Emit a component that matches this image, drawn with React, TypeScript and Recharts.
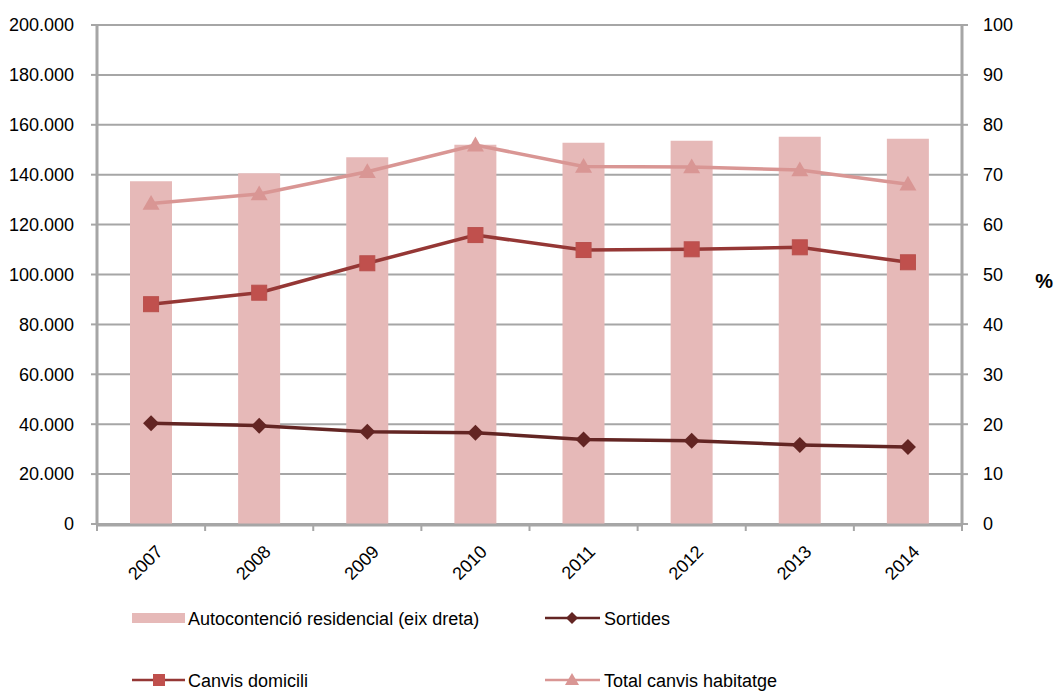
import React from 'react';
import { ComposedChart, Bar, Line, XAxis, YAxis, CartesianGrid, Legend } from 'recharts';

const years = ['2007', '2008', '2009', '2010', '2011', '2012', '2013', '2014'];
const autocontencio = [68.7, 70.3, 73.5, 76.0, 76.4, 76.8, 77.6, 77.2];
const totalCanvis = [128500, 132300, 141200, 151900, 143300, 143100, 141900, 136200];
const canvisDomicili = [88100, 92700, 104500, 115800, 109800, 110100, 110900, 104900];
const sortides = [40400, 39400, 37000, 36600, 33900, 33400, 31700, 30900];
const leftTicks = [0, 20000, 40000, 60000, 80000, 100000, 120000, 140000, 160000, 180000, 200000];
const rightTicks = [0, 10, 20, 30, 40, 50, 60, 70, 80, 90, 100];
const boundaryTicks = [0, 1, 2, 3, 4, 5, 6, 7, 8];

const data = years.map((y, i) => ({
  year: y,
  idx: i + 0.5,
  auto: autocontencio[i],
  total: totalCanvis[i],
  canvis: canvisDomicili[i],
  sortides: sortides[i],
}));

const FONT = "'Liberation Sans', Arial, sans-serif";
const GRID = '#a6a6a6';
const C_BAR = '#e6b9b8';
const C_TOTAL = '#d99694';
const C_CANVIS = '#953735';
const C_CANVIS_M = '#c0504d';
const C_SORT = '#632523';

const fmt = (v: number) => {
  const s = String(Math.round(v));
  return s.replace(/\B(?=(\d{3})+(?!\d))/g, '.');
};

const XTick = (props: any) => {
  const { x, y, payload } = props;
  return (
    <g transform={`translate(${x},${y})`}>
      <text x={0} y={0} dx={-5} dy={23} textAnchor="end" transform="rotate(-45)" fontSize={18} fontFamily={FONT} fill="#000">
        {payload.value}
      </text>
    </g>
  );
};

const EmptyTick = (props: any) => <g />;

const Tri = (props: any) => {
  const { cx, cy, index } = props;
  if (cx == null || cy == null) return <g key={`t${index}`} />;
  const s = 8.5;
  return <path key={`t${index}`} d={`M${cx},${cy - s} L${cx + s},${cy + s * 0.75} L${cx - s},${cy + s * 0.75} Z`} fill={C_TOTAL} />;
};
const Sq = (props: any) => {
  const { cx, cy, index } = props;
  if (cx == null || cy == null) return <g key={`s${index}`} />;
  const s = 7.5;
  return <rect key={`s${index}`} x={cx - s} y={cy - s} width={2 * s} height={2 * s} fill={C_CANVIS_M} stroke="#b9504d" strokeWidth={1} />;
};
const Dia = (props: any) => {
  const { cx, cy, index } = props;
  if (cx == null || cy == null) return <g key={`d${index}`} />;
  const s = 8;
  return <path key={`d${index}`} d={`M${cx},${cy - s} L${cx + s},${cy} L${cx},${cy + s} L${cx - s},${cy} Z`} fill={C_SORT} />;
};

const LegendBox = () => (
  <div style={{ width: 1057, height: 96, position: 'relative' }}>
    <svg width={1057} height={96} style={{ display: 'block' }}>
      <rect x={132} y={18} width={53} height={10} fill={C_BAR} />
      <text x={188} y={30} fontSize={18} fontFamily={FONT} fill="#000">Autocontenció residencial (eix dreta)</text>

      <line x1={545} y1={23} x2={600} y2={23} stroke={C_SORT} strokeWidth={2.5} />
      <path d="M572,17 L578,23 L572,29 L566,23 Z" fill={C_SORT} />
      <text x={604} y={30} fontSize={18} fontFamily={FONT} fill="#000">Sortides</text>

      <line x1={132} y1={85} x2={185} y2={85} stroke={C_CANVIS} strokeWidth={2.5} />
      <rect x={153} y={79} width={12} height={12} fill={C_CANVIS_M} />
      <text x={188} y={92} fontSize={18} fontFamily={FONT} fill="#000">Canvis domicili</text>

      <line x1={545} y1={85} x2={600} y2={85} stroke={C_TOTAL} strokeWidth={2.5} />
      <path d="M572,78 L579,90 L565,90 Z" fill={C_TOTAL} />
      <text x={604} y={92} fontSize={18} fontFamily={FONT} fill="#000">Total canvis habitatge</text>
    </svg>
  </div>
);

export default function App() {
  return (
    <div style={{ position: 'absolute', left: 0, top: 0, width: 1057, height: 691, background: '#fff' }}>
      <ComposedChart width={1057} height={691} data={data} margin={{ top: 25, right: 0, left: 0, bottom: 0 }}>
        <CartesianGrid vertical={false} stroke={GRID} strokeWidth={2} xAxisId="cat" yAxisId="left" />
        <XAxis xAxisId={0} dataKey="idx" type="number" domain={[0, 8]} ticks={boundaryTicks} allowDataOverflow height={1}
          tick={<EmptyTick />} axisLine={false} tickLine={{ stroke: GRID, strokeWidth: 2 }} tickSize={7} interval={0} />
        <XAxis xAxisId="cat" dataKey="year" height={70} tick={<XTick />} tickLine={false}
          axisLine={{ stroke: GRID, strokeWidth: 3 }} interval={0} />
        <YAxis yAxisId="left" orientation="left" width={97} domain={[0, 200000]} ticks={leftTicks}
          tickFormatter={fmt} axisLine={{ stroke: GRID, strokeWidth: 3 }} tickLine={{ stroke: GRID, strokeWidth: 2 }}
          tickSize={6} tickMargin={17} tick={{ fontSize: 18, fontFamily: FONT, fill: '#000' }} interval={0} />
        <YAxis yAxisId="right" orientation="right" width={95} domain={[0, 100]} ticks={rightTicks}
          axisLine={{ stroke: GRID, strokeWidth: 3 }} tickLine={{ stroke: GRID, strokeWidth: 2 }}
          tickSize={6} tickMargin={15} tick={{ fontSize: 18, fontFamily: FONT, fill: '#000' }} interval={0}
          label={{ value: '%', position: 'insideRight', offset: 4, dy: 6, fontSize: 20, fontWeight: 'bold', fontFamily: FONT, fill: '#000' }} />
        <Bar xAxisId="cat" yAxisId="right" dataKey="auto" name="Autocontenció residencial (eix dreta)" fill={C_BAR} barSize={42} isAnimationActive={false} />
        <Line xAxisId="cat" yAxisId="left" dataKey="total" name="Total canvis habitatge" stroke={C_TOTAL} strokeWidth={3.5} dot={<Tri />} activeDot={false} isAnimationActive={false} />
        <Line xAxisId="cat" yAxisId="left" dataKey="canvis" name="Canvis domicili" stroke={C_CANVIS} strokeWidth={3.5} dot={<Sq />} activeDot={false} isAnimationActive={false} />
        <Line xAxisId="cat" yAxisId="left" dataKey="sortides" name="Sortides" stroke={C_SORT} strokeWidth={3.5} dot={<Dia />} activeDot={false} isAnimationActive={false} />
        <Legend verticalAlign="bottom" content={() => <LegendBox />} wrapperStyle={{ left: 0, width: 1057 }} />
      </ComposedChart>
    </div>
  );
}
